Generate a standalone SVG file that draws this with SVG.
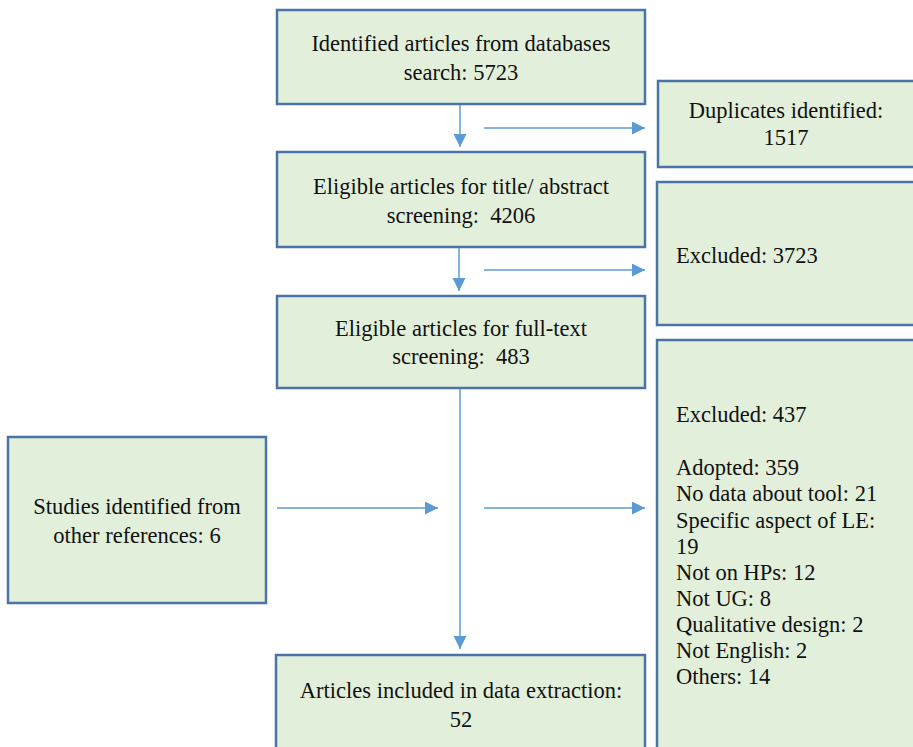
<svg xmlns="http://www.w3.org/2000/svg" width="913" height="747" viewBox="0 0 913 747">
<defs>
<marker id="ah" markerWidth="14" markerHeight="14" refX="13" refY="6.5" orient="auto" markerUnits="userSpaceOnUse">
<path d="M0,0 L13,6.5 L0,13 z" fill="#5b9bd5"/>
</marker>
<style>
.box{fill:#e2efda;stroke:#4a74a5;stroke-width:2.5}
.ln{stroke:#5b9bd5;stroke-width:1.5;fill:none;marker-end:url(#ah)}
</style>
</defs>
<rect width="913" height="747" fill="#fff"/>
<g font-family="'Liberation Serif', 'Times New Roman', serif" font-size="22.5" fill="#111">
<g id="n1" text-anchor="middle"><rect class="box" x="277" y="10" width="368" height="94"/>
<text x="461" y="51">Identified articles from databases</text>
<text x="461" y="80">search: 5723</text></g>
<g id="n2" text-anchor="middle"><rect class="box" x="277" y="152" width="368" height="95"/>
<text x="461" y="194">Eligible articles for title/ abstract</text>
<text x="461" y="223" xml:space="preserve">screening:  4206</text></g>
<g id="n3" text-anchor="middle"><rect class="box" x="277" y="296" width="368" height="92"/>
<text x="461" y="336">Eligible articles for full-text</text>
<text x="461" y="364" xml:space="preserve">screening:  483</text></g>
<g id="n4" text-anchor="middle"><rect class="box" x="276" y="655" width="369" height="100"/>
<text x="461" y="698">Articles included in data extraction:</text>
<text x="461" y="727">52</text></g>
<g id="n5" text-anchor="middle"><rect class="box" x="8" y="437" width="258" height="166"/>
<text x="137" y="514">Studies identified from</text>
<text x="137" y="543">other references: 6</text></g>
<g id="n6" text-anchor="middle"><rect class="box" x="658" y="81" width="265" height="86"/>
<text x="786" y="118">Duplicates identified:</text>
<text x="786" y="145">1517</text></g>
<g id="n7"><rect class="box" x="657" y="182" width="266" height="143"/>
<text x="676" y="263">Excluded: 3723</text></g>
<g id="n8"><rect class="box" x="657" y="340" width="266" height="420"/>
<text x="676" y="422">Excluded: 437</text>
<text x="676" y="475">Adopted: 359</text>
<text x="676" y="501">No data about tool: 21</text>
<text x="676" y="528">Specific aspect of LE:</text>
<text x="676" y="554">19</text>
<text x="676" y="580">Not on HPs: 12</text>
<text x="676" y="606">Not UG: 8</text>
<text x="676" y="632">Qualitative design: 2</text>
<text x="676" y="658">Not English: 2</text>
<text x="676" y="684">Others: 14</text></g>
</g>
<g id="connectors">
<line class="ln" x1="460" y1="105" x2="460" y2="147"/>
<line class="ln" x1="484" y1="128" x2="645" y2="128"/>
<line class="ln" x1="459" y1="248" x2="459" y2="291"/>
<line class="ln" x1="484" y1="270" x2="645" y2="270"/>
<line class="ln" x1="460" y1="389" x2="460" y2="649"/>
<line class="ln" x1="277" y1="508" x2="438" y2="508"/>
<line class="ln" x1="484" y1="508" x2="645" y2="508"/>
</g>
</svg>
